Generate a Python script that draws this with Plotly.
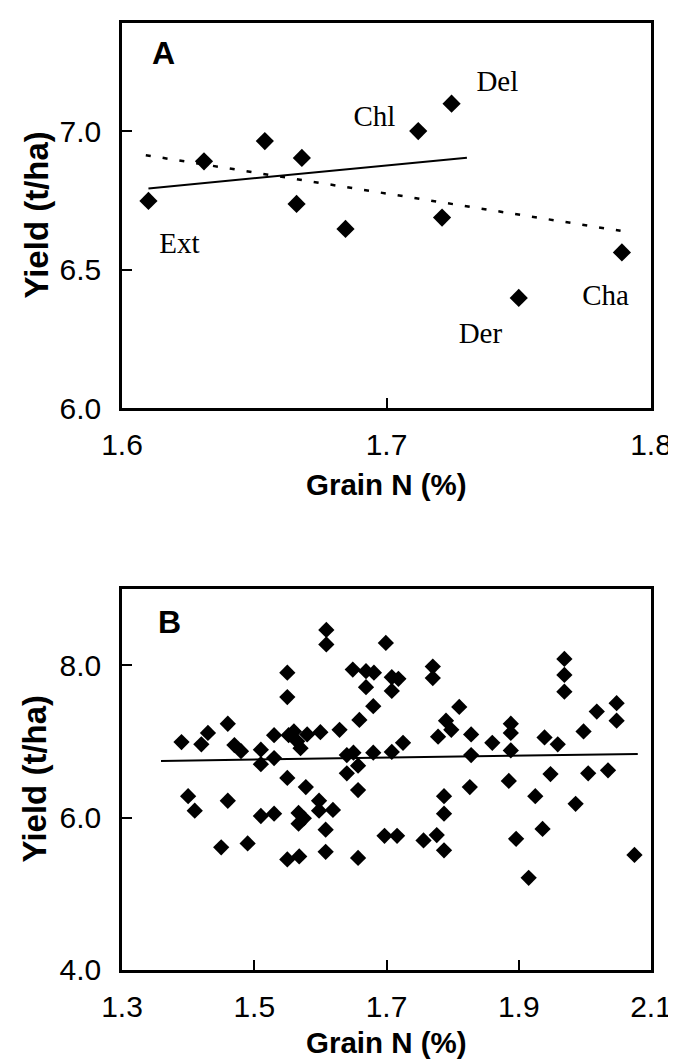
import plotly.graph_objects as go

# ---------- Panel A data ----------
a_grain_n = [1.610, 1.631, 1.654, 1.668, 1.666, 1.6845, 1.712, 1.7246, 1.721, 1.750, 1.789]
a_yield = [6.748, 6.891, 6.964, 6.903, 6.737, 6.647, 7.000, 7.099, 6.688, 6.398, 6.562]

a_solid_x = [1.610, 1.7304]
a_solid_y = [6.793, 6.904]
a_dotted_x = [1.609, 1.7885]
a_dotted_y = [6.913, 6.640]

a_label_text = ["Ext", "Chl", "Del", "Der", "Cha"]
a_label_x = [1.6217, 1.6954, 1.7419, 1.7355, 1.7828]
a_label_y = [6.586, 7.044, 7.170, 6.261, 6.398]

# ---------- Panel B data ----------
b_grain_n = [
    1.39, 1.40, 1.41, 1.42, 1.43, 1.45, 1.46, 1.46, 1.47, 1.48,
    1.49, 1.51, 1.51, 1.51, 1.53, 1.53, 1.53, 1.55, 1.55, 1.552,
    1.55, 1.55, 1.56, 1.565, 1.57, 1.567, 1.575, 1.567, 1.568, 1.578,
    1.58, 1.60, 1.598, 1.598, 1.609, 1.609, 1.608, 1.608, 1.619, 1.629,
    1.640, 1.640, 1.649, 1.650, 1.659, 1.657, 1.657, 1.657, 1.669, 1.669,
    1.681, 1.680, 1.680, 1.699, 1.697, 1.708, 1.708, 1.718, 1.708, 1.716,
    1.725, 1.756, 1.770, 1.770, 1.778, 1.776, 1.790, 1.787, 1.787, 1.787,
    1.798, 1.810, 1.828, 1.828, 1.826, 1.860, 1.888, 1.888, 1.888, 1.885,
    1.896, 1.915, 1.925, 1.939, 1.936, 1.948, 1.959, 1.969, 1.969, 1.969,
    1.986, 1.998, 2.005, 2.018, 2.035, 2.048, 2.048, 2.075,
]
b_yield = [
    6.99, 6.28, 6.09, 6.96, 7.11, 5.61, 7.23, 6.22, 6.95, 6.87,
    5.66, 6.89, 6.70, 6.02, 6.05, 7.08, 6.78, 7.90, 7.58, 7.08,
    6.52, 5.45, 7.13, 7.00, 6.91, 6.06, 5.99, 5.92, 5.49, 6.40,
    7.09, 7.12, 6.22, 6.09, 8.46, 8.27, 5.84, 5.55, 6.10, 7.15,
    6.58, 6.82, 7.94, 6.85, 7.28, 6.68, 6.36, 5.47, 7.71, 7.92,
    7.90, 7.46, 6.85, 8.29, 5.76, 7.66, 7.84, 7.82, 6.86, 5.76,
    6.98, 5.70, 7.98, 7.83, 7.06, 5.77, 7.27, 6.28, 6.05, 5.57,
    7.15, 7.45, 7.09, 6.82, 6.40, 6.98, 7.23, 7.11, 6.88, 6.48,
    5.72, 5.21, 6.28, 7.05, 5.85, 6.57, 6.96, 8.08, 7.87, 7.65,
    6.18, 7.13, 6.58, 7.39, 6.62, 7.50, 7.27, 5.51,
]
b_line_x = [1.359, 2.080]
b_line_y = [6.742, 6.834]

# ---------- Axis settings ----------
a_xticks = [1.6, 1.7, 1.8]
a_yticks = [6.0, 6.5, 7.0]
b_xticks = [1.3, 1.5, 1.7, 1.9, 2.1]
b_yticks = [4.0, 6.0, 8.0]

x_title = "Grain N (%)"
y_title = "Yield (t/ha)"

W, H = 676, 1059
ML, MR, MT, MB = 114, 21, 13, 97
plot_h = H - MT - MB
dom_a = [1 - (399 - MT) / plot_h, 1.0]
dom_b = [0.0, (962 - 580) / plot_h]

fig = go.Figure()

# Panel A
fig.add_trace(go.Scatter(x=a_grain_n, y=a_yield, mode="markers",
                         marker=dict(symbol="diamond", size=14, color="black"),
                         xaxis="x", yaxis="y", showlegend=False))
fig.add_trace(go.Scatter(x=a_solid_x, y=a_solid_y, mode="lines",
                         line=dict(color="black", width=2),
                         xaxis="x", yaxis="y", showlegend=False))
fig.add_trace(go.Scatter(x=a_dotted_x, y=a_dotted_y, mode="lines",
                         line=dict(color="black", width=2.5, dash="5px,12px"),
                         xaxis="x", yaxis="y", showlegend=False))
fig.add_trace(go.Scatter(x=a_label_x, y=a_label_y, mode="text", text=a_label_text,
                         textfont=dict(family="Liberation Serif", size=29, color="black"),
                         xaxis="x", yaxis="y", showlegend=False))

# Panel B
fig.add_trace(go.Scatter(x=b_grain_n, y=b_yield, mode="markers",
                         marker=dict(symbol="diamond", size=12.5, color="black"),
                         xaxis="x2", yaxis="y2", showlegend=False))
fig.add_trace(go.Scatter(x=b_line_x, y=b_line_y, mode="lines",
                         line=dict(color="black", width=2),
                         xaxis="x2", yaxis="y2", showlegend=False))

tick_font = dict(family="Liberation Sans, Arial", size=30, color="black")
common = dict(showline=True, linecolor="black", linewidth=2.5, mirror=True,
              ticks="inside", ticklen=10, tickwidth=2, tickcolor="black",
              showgrid=False, zeroline=False, tickfont=tick_font)

fig.update_layout(
    width=W, height=H,
    margin=dict(l=ML, r=MR, t=MT, b=MB),
    paper_bgcolor="white", plot_bgcolor="white",
    xaxis=dict(domain=[0, 1], range=[1.6, 1.8], tickvals=a_xticks, tickformat=".1f",
               anchor="y", ticklabelstandoff=8, **common),
    yaxis=dict(domain=dom_a, range=[6.0, 7.39], tickvals=a_yticks, tickformat=".1f",
               anchor="x", ticklabelstandoff=12, **common),
    xaxis2=dict(domain=[0, 1], range=[1.3, 2.1], tickvals=b_xticks, tickformat=".1f",
                anchor="y2", ticklabelstandoff=8, **common),
    yaxis2=dict(domain=dom_b, range=[4.0, 9.0], tickvals=b_yticks, tickformat=".1f",
                anchor="x2", ticklabelstandoff=12, **common),
)

xtitle_font = dict(family="Liberation Sans, Arial", size=29.5, color="black")
ytitle_font = dict(family="Liberation Sans, Arial", size=33, color="black")
panel_font = dict(family="Liberation Sans, Arial", size=32, color="black")

annotations = [
    dict(text="<b>A</b>", x=1.6155, y=7.28, xref="x", yref="y", showarrow=False,
         font=panel_font, xanchor="center", yanchor="middle"),
    dict(text="<b>B</b>", x=1.372, y=8.57, xref="x2", yref="y2", showarrow=False,
         font=panel_font, xanchor="center", yanchor="middle"),
    dict(text="<b>" + x_title + "</b>", x=0.5, y=dom_a[0], xref="paper", yref="paper",
         yshift=-76, showarrow=False, font=xtitle_font, xanchor="center", yanchor="middle"),
    dict(text="<b>" + x_title + "</b>", x=0.5, y=dom_b[0], xref="paper", yref="paper",
         yshift=-72, showarrow=False, font=xtitle_font, xanchor="center", yanchor="middle"),
    dict(text="<b>" + y_title + "</b>", x=0, y=(dom_a[0] + dom_a[1]) / 2, xref="paper", yref="paper",
         xshift=-85, textangle=-90, showarrow=False, font=ytitle_font,
         xanchor="center", yanchor="middle"),
    dict(text="<b>" + y_title + "</b>", x=0, y=(dom_b[0] + dom_b[1]) / 2, xref="paper", yref="paper",
         xshift=-88, textangle=-90, showarrow=False, font=ytitle_font,
         xanchor="center", yanchor="middle"),
]
fig.update_layout(annotations=annotations)

fig.write_html("out.html")
